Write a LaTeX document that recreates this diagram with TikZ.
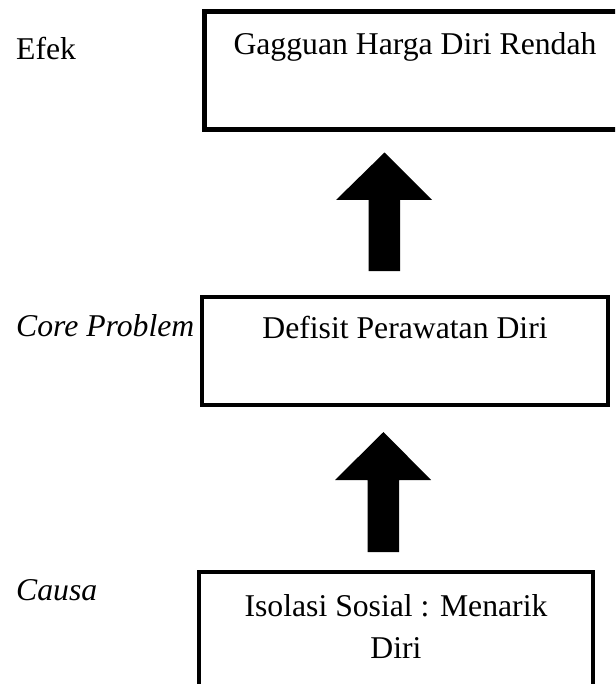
\documentclass[tikz,border=0pt]{standalone}
\usepackage{fontspec}
\setmainfont{Liberation Serif}
\begin{document}
\begin{tikzpicture}[x=1pt,y=-1pt,
  box/.style={draw=black,rectangle,inner sep=0pt,line join=miter,line width=4.6pt},
  txt/.style={anchor=base,inner sep=0pt,font=\fontsize{31.7}{42}\selectfont},
  lbl/.style={anchor=base west,inner sep=0pt,font=\fontsize{31.7}{42}\selectfont},
  blockarrow/.style={fill=black,draw=none}]
\useasboundingbox (0,0) rectangle (615,684);
\clip (0,0) rectangle (615,684);
\fill[white] (0,0) rectangle (615,684);
% boxes
\node[box,minimum width=422pt,minimum height=118pt] (b1) at (415.5,70.5) {};
\node[box,minimum width=406pt,minimum height=108pt] (b2) at (405,351) {};
\node[box,minimum width=394pt,minimum height=140pt] (b3) at (396,642) {};
% box texts
\node[txt] (t1) at (415,55) {Gagguan Harga Diri Rendah};
\node[txt] (t2) at (405,338) {Defisit Perawatan Diri};
\node[txt] (t3a) at (396,616) {Isolasi Sosial : Menarik};
\node[txt] (t3b) at (396,658) {Diri};
% left labels
\node[lbl] (l1) at (16,60) {Efek};
\node[lbl] (l2) at (16,336) {\itshape Core Problem};
\node[lbl] (l3) at (16,600) {\itshape Causa};
% block arrows
\fill[blockarrow] (368.5,271) -- (400,271) -- (400,200) -- (432,200) -- (384.5,152.5) -- (336,200) -- (368.5,200) -- cycle;
\fill[blockarrow] (367.5,552) -- (399,552) -- (399,480) -- (431,480) -- (383.5,432) -- (335,480) -- (367.5,480) -- cycle;
\end{tikzpicture}
\end{document}
